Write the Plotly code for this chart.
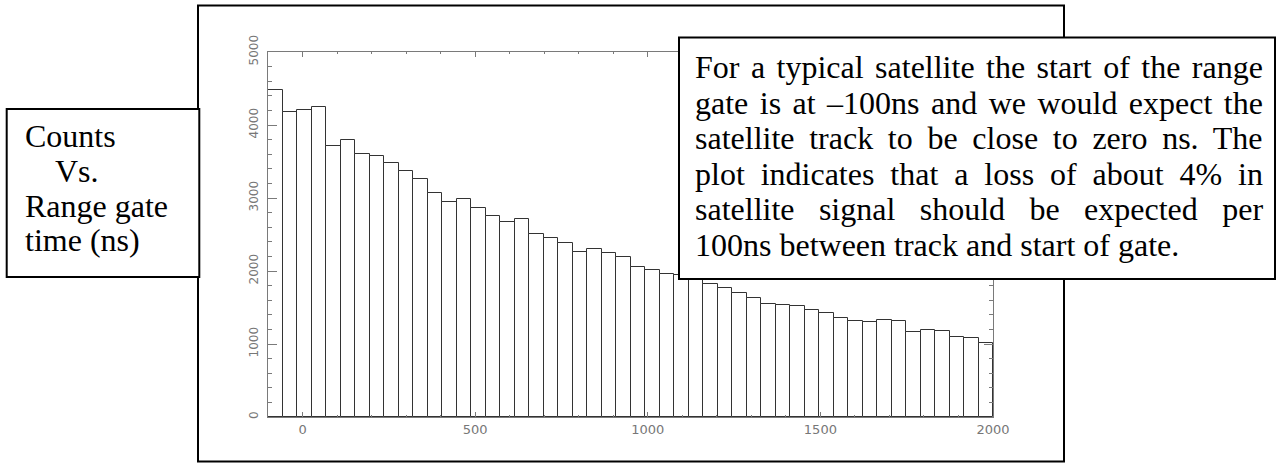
import plotly.graph_objects as go

# Range-gate histogram: 50 bins of 42 ns starting at the gate opening (-100 ns)
gate_start_ns = -100
bin_width_ns = 42
counts = [
    4474, 4178, 4205, 4241, 3712, 3789, 3603, 3570, 3474, 3370,
    3255, 3068, 2949, 2986, 2858, 2753, 2675, 2712, 2507, 2452,
    2378, 2260, 2301, 2241, 2186, 2055, 2018, 1959, 1950, 1920,
    1816, 1771, 1699, 1630, 1545, 1539, 1515, 1466, 1420, 1356,
    1319, 1301, 1329, 1319, 1164, 1192, 1173, 1091, 1077, 1014,
]
bin_centers = [gate_start_ns + bin_width_ns * (i + 0.5) for i in range(len(counts))]

x_range = [-100, 2000]
y_range = [0, 5000]
x_tickvals = [0, 500, 1000, 1500, 2000]
x_ticktext = ["0", "500", "1000", "1500", "2000"]
y_tickvals = [0, 1000, 2000, 3000, 4000, 5000]
y_ticktext = ["0", "1000", "2000", "3000", "4000", "5000"]

title_lines = ["Counts", "Vs.", "Range gate", "time (ns)"]
note_lines = [
    "For a typical satellite the start of the range",
    "gate is at \u2013100ns and we would expect the",
    "satellite track to be close to zero ns. The",
    "plot indicates that a loss of about 4% in",
    "satellite signal should be expected per",
    "100ns between track and start of gate.",
]

W, H = 1278, 464
ML, MR, MT, MB = 268, 285, 52, 47
PW, PH = W - ML - MR, H - MT - MB


def px(x):
    return (x - ML) / PW


def py(y):
    return (H - MB - y) / PH


axis_grey = "#7a7a7a"
x_tick_font = dict(family="DejaVu Sans", size=13, color="#777777")
y_tick_font = dict(family="DejaVu Sans", size=12, color="#777777")
serif = dict(family="Liberation Serif", size=32, color="black")

fig = go.Figure()
fig.add_trace(go.Bar(
    x=bin_centers, y=counts, width=bin_width_ns,
    marker=dict(color="white", line=dict(color="#333333", width=1)),
    hoverinfo="skip",
))

fig.update_layout(
    width=W, height=H, autosize=False,
    margin=dict(l=ML, r=MR, t=MT, b=MB, pad=0),
    paper_bgcolor="white", plot_bgcolor="white",
    showlegend=False, bargap=0,
    xaxis=dict(
        range=x_range, showgrid=False, zeroline=False,
        showline=True, linecolor=axis_grey, linewidth=1, mirror="ticks",
        ticks="inside", ticklen=5, tickwidth=1, tickcolor=axis_grey,
        tickvals=x_tickvals, ticktext=x_ticktext, tickfont=x_tick_font,
        minor=dict(dtick=100, tick0=0, ticks="inside", ticklen=2,
                   tickcolor=axis_grey, tickwidth=1),
    ),
    yaxis=dict(
        range=y_range, showgrid=False, zeroline=False,
        showline=True, linecolor=axis_grey, linewidth=1, mirror="ticks",
        ticks="inside", ticklen=9, tickwidth=1, tickcolor=axis_grey,
        tickvals=y_tickvals, ticktext=y_ticktext, tickfont=y_tick_font,
        tickangle=-90, ticklabelstandoff=4,
        minor=dict(dtick=200, tick0=0, ticks="inside", ticklen=4,
                   tickcolor=axis_grey, tickwidth=1),
    ),
)

# Outer drawing frame, then the two text boxes (white-filled, on top of the plot)
shapes = [
    dict(x0=198, x1=1064, y0=5.5, y1=461.5, fill=None),
    dict(x0=6.7, x1=199.3, y0=109, y1=277, fill="white"),
    dict(x0=679, x1=1275, y0=37.5, y1=279, fill="white"),
]
for s in shapes:
    fig.add_shape(
        type="rect", xref="paper", yref="paper",
        x0=px(s["x0"]), x1=px(s["x1"]), y0=py(s["y1"]), y1=py(s["y0"]),
        line=dict(color="black", width=2),
        fillcolor=s["fill"] if s["fill"] else "rgba(0,0,0,0)",
        layer="above",
    )

# Left caption box
title_left = [22.7, 53, 22.7, 22.7]
for i, line in enumerate(title_lines):
    fig.add_annotation(
        xref="paper", yref="paper", x=px(title_left[i]), y=py(135.5 + 35 * i),
        xanchor="left", yanchor="middle", showarrow=False,
        text=line, font=serif,
    )

# Justified note box: extra word spacing per line (last line is ragged)
word_gap = [3.45, 3.45, 6.7, 7.9, 16.4, 0]
for i, line in enumerate(note_lines):
    txt = f'<span style="word-spacing:{word_gap[i]}px">{line}</span>' if word_gap[i] else line
    fig.add_annotation(
        xref="paper", yref="paper", x=px(693), y=py(67 + 35.5 * i),
        xanchor="left", yanchor="middle", showarrow=False,
        text=txt, font=serif,
    )

fig.write_html("out.html")
